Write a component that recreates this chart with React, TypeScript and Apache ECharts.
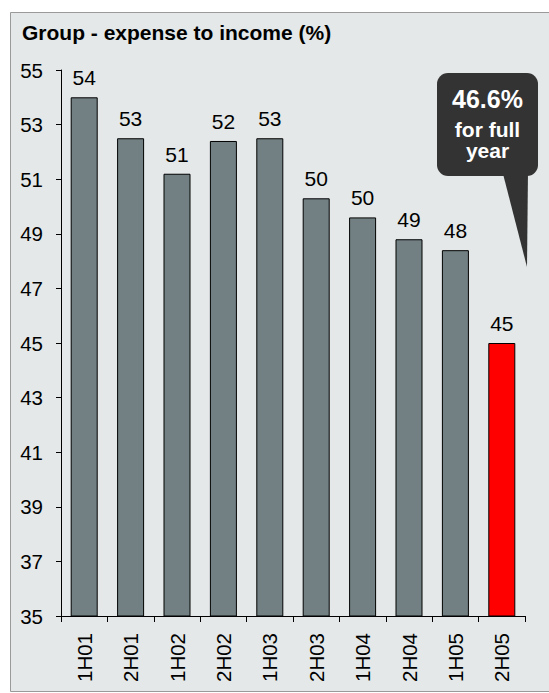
import React, { useEffect, useRef } from "react";
import * as echarts from "echarts";

const categories = ["1H01", "2H01", "1H02", "2H02", "1H03", "2H03", "1H04", "2H04", "1H05", "2H05"];
const values = [54.0, 52.5, 51.2, 52.4, 52.5, 50.3, 49.6, 48.8, 48.4, 45.0];
const highlightIndex = 9;
const yMin = 35;
const yMax = 55;
const yStep = 2;
const title = "Group - expense to income (%)";
const calloutValue = "46.6%";
const calloutNote = "for full\nyear";

export default function App() {
  const ref = useRef<HTMLDivElement>(null);
  useEffect(() => {
    document.body.style.margin = "0";
    const chart = echarts.init(ref.current!, null, { renderer: "svg" });
    const font = "Liberation Sans, Arial, sans-serif";
    chart.setOption({
      animation: false,
      backgroundColor: "#ffffff",
      textStyle: { fontFamily: font },
      grid: { left: 61, top: 70, right: 24, bottom: 77, containLabel: false },
      xAxis: {
        type: "category",
        data: categories,
        axisLine: { lineStyle: { color: "#000", width: 1 } },
        axisTick: { show: true, length: 6, lineStyle: { color: "#000" } },
        axisLabel: { rotate: 90, fontSize: 20.5, color: "#000", margin: 17, fontFamily: font },
      },
      yAxis: {
        type: "value",
        min: yMin,
        max: yMax,
        interval: yStep,
        splitLine: { show: false },
        axisLine: { show: true, lineStyle: { color: "#000", width: 1 } },
        axisTick: { show: true, length: 5, lineStyle: { color: "#000" } },
        axisLabel: { fontSize: 20.5, color: "#000", margin: 18, fontFamily: font },
      },
      series: [
        {
          type: "bar",
          barWidth: 27,
          data: values.map((v, i) => ({
            value: v,
            itemStyle: { color: i === highlightIndex ? "#ff0000" : "#738083" },
          })),
          itemStyle: { borderColor: "#000", borderWidth: 1 },
          label: {
            show: true,
            position: "top",
            distance: 9,
            fontSize: 21,
            color: "#000",
            fontFamily: font,
            formatter: (p: any) => String(Math.round(p.value)),
          },
        },
      ],
      graphic: [
        {
          type: "rect",
          z: -10,
          silent: true,
          shape: { x: 10.5, y: 12.5, width: 560, height: 679 },
          style: { fill: "#e4e8e8", stroke: "#9a9a9a", lineWidth: 1 },
        },
        {
          type: "text",
          x: 22,
          y: 32,
          style: { text: title, fill: "#000", font: `bold 21px ${font}`, verticalAlign: "middle" },
        },
        {
          type: "polygon",
          z: 10,
          shape: { points: [[502, 170], [528, 170], [527, 267]] },
          style: { fill: "#333333" },
        },
        {
          type: "rect",
          z: 10,
          shape: { x: 437, y: 73, width: 101, height: 103, r: 11 },
          style: { fill: "#333333" },
        },
        {
          type: "text",
          z: 11,
          x: 487.5,
          y: 99,
          style: { text: calloutValue, fill: "#fff", font: `bold 25px ${font}`, align: "center", verticalAlign: "middle" },
        },
        {
          type: "text",
          z: 11,
          x: 487.5,
          y: 140,
          style: {
            text: calloutNote,
            fill: "#fff",
            font: `bold 21px ${font}`,
            lineHeight: 21.5,
            align: "center",
            verticalAlign: "middle",
          },
        },
      ],
    });
    return () => chart.dispose();
  }, []);
  return <div ref={ref} style={{ width: 549, height: 693 }} />;
}
